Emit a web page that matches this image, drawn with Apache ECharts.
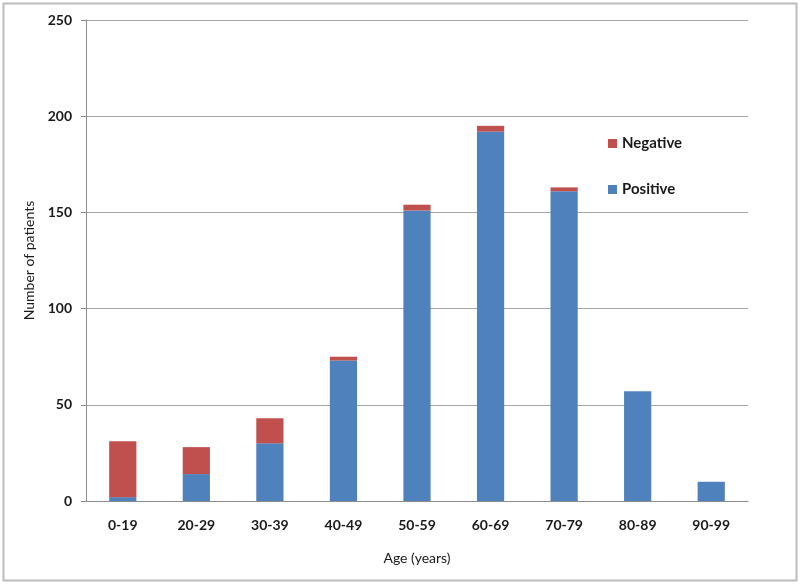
<!DOCTYPE html>
<html>
<head>
<meta charset="utf-8">
<script src="https://cdn.jsdelivr.net/npm/echarts@6/dist/echarts.min.js"></script>
<style>
  html, body { margin: 0; padding: 0; background: #fff; }
  #chart { width: 800px; height: 584px; }
</style>
</head>
<body>
<div id="chart"></div>
<script>
  // age groups and counts
  var ageGroups = ['0-19', '20-29', '30-39', '40-49', '50-59', '60-69', '70-79', '80-89', '90-99']
  var positive = [2, 14, 30, 73, 151, 192, 161, 57, 10]
  var negative = [29, 14, 13, 2, 3, 3, 2, 0, 0]
  var yTicks = [0, 50, 100, 150, 200, 250]

  var font = 'Lato, "Open Sans", sans-serif'
  var chart = echarts.init(document.getElementById('chart'))
  chart.setOption({
    animation: false,
    backgroundColor: '#ffffff',
    graphic: [{
      type: 'rect',
      shape: { x: 3.5, y: 3.5, width: 793, height: 577 },
      style: { fill: 'none', stroke: '#bdbdbd', lineWidth: 2 },
      silent: true
    }],
    grid: { left: 86, right: 52, top: 20, bottom: 83 },
    legend: {
      orient: 'vertical',
      left: 603,
      top: 131,
      itemGap: 31,
      itemWidth: 9,
      itemHeight: 9,
      icon: 'rect',
      data: ['Negative', 'Positive'],
      textStyle: { fontFamily: font, fontWeight: 'bold', fontSize: 15, color: '#1a1a1a' }
    },
    xAxis: {
      type: 'category',
      data: ageGroups,
      name: 'Age (years)',
      nameLocation: 'middle',
      nameGap: 50,
      nameTextStyle: { fontFamily: font, fontSize: 14, color: '#1a1a1a' },
      axisLine: { lineStyle: { color: '#8c8c8c' } },
      axisTick: { alignWithLabel: false, length: 5, lineStyle: { color: '#8c8c8c' } },
      axisLabel: { margin: 17, fontFamily: font, fontWeight: 'bold', fontSize: 14, color: '#1a1a1a' }
    },
    yAxis: {
      type: 'value',
      min: yTicks[0],
      max: yTicks[yTicks.length - 1],
      interval: 50,
      name: 'Number of patients',
      nameLocation: 'middle',
      nameGap: 48,
      nameTextStyle: { fontFamily: font, fontSize: 14, color: '#1a1a1a' },
      axisLine: { show: true, lineStyle: { color: '#8c8c8c' } },
      axisTick: { show: true, length: 5, lineStyle: { color: '#8c8c8c' } },
      axisLabel: { margin: 14, fontFamily: font, fontWeight: 'bold', fontSize: 14, color: '#1a1a1a' },
      splitLine: { lineStyle: { color: '#a6a6a6', width: 1 } }
    },
    series: [
      {
        name: 'Positive',
        type: 'bar',
        stack: 'total',
        barWidth: '37%',
        itemStyle: { color: '#4f81bd' },
        data: positive
      },
      {
        name: 'Negative',
        type: 'bar',
        stack: 'total',
        barWidth: '37%',
        itemStyle: { color: '#c0504d' },
        data: negative
      }
    ]
  })
</script>
</body>
</html>
